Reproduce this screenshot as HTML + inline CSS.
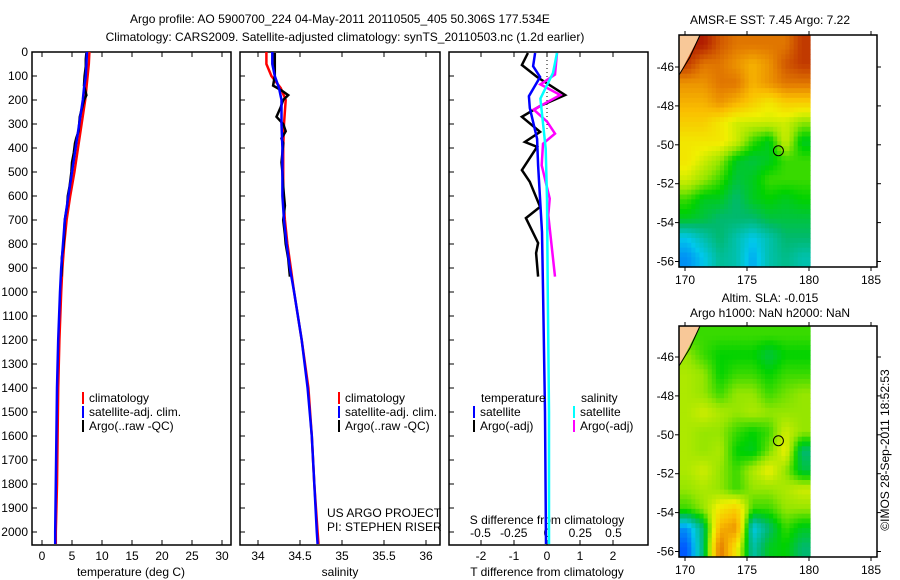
<!DOCTYPE html>
<html><head><meta charset="utf-8"><style>
body{margin:0;background:#fff;}
svg{display:block;font-family:"Liberation Sans",sans-serif;}
text{font-size:12px;fill:#000;}
</style></head><body>
<svg id="fig" width="900" height="580" viewBox="0 0 900 580" xmlns="http://www.w3.org/2000/svg">
<text x="340" y="23" text-anchor="middle">Argo profile: AO 5900700_224 04-May-2011 20110505_405 50.306S 177.534E</text>
<text x="345" y="41" text-anchor="middle">Climatology: CARS2009. Satellite-adjusted climatology: synTS_20110503.nc (1.2d earlier)</text>
<g id="g"></g>
<text transform="rotate(-90 889 450)" text-anchor="middle"><tspan x="889" y="450">©IMOS 28-Sep-2011 18:52:53</tspan></text>
</svg>
<script>
// ---- data ----
const depthTicks=[0,100,200,300,400,500,600,700,800,900,1000,1100,1200,1300,1400,1500,1600,1700,1800,1900,2000];
const tempTicks=[0,5,10,15,20,25,30];
const salTicks=[34,34.5,35,35.5,36];
const tdTicks=[-2,-1,0,1,2];
const sdTicks=[-0.5,-0.25,0,0.25,0.5];
const sdTickLabels=["-0.5","-0.25","0","0.25","0.5"];
const depthsStd=[0,50,100,150,200,300,400,500,600,700,800,900,1000,1200,1400,1600,1800,2000,2050];
const tempClim=[7.9,7.8,7.6,7.4,7.2,6.6,6.0,5.4,4.7,4.1,3.7,3.4,3.2,2.9,2.7,2.6,2.5,2.3,2.3];
const tempSat=[7.5,7.4,7.3,7.0,6.8,6.2,5.6,5.0,4.4,3.8,3.5,3.2,3.0,2.7,2.5,2.4,2.3,2.2,2.2];
const salClim=[34.1,34.1,34.16,34.27,34.33,34.31,34.3,34.3,34.3,34.32,34.35,34.39,34.43,34.52,34.6,34.64,34.67,34.71,34.72];
const salSat=[34.17,34.17,34.2,34.25,34.28,34.28,34.29,34.29,34.29,34.31,34.34,34.38,34.43,34.52,34.59,34.64,34.67,34.7,34.71];
const argoDepth=[4,30,60,100,140,160,180,200,230,270,300,330,360,380,420,460,500,560,600,640,700,760,800,860,900,936];
const argoTemp=[7.4,7.3,7.3,7.1,7.0,7.2,7.4,7.0,6.7,6.3,6.2,6.1,5.7,5.5,5.3,5.0,4.9,4.6,4.3,4.2,3.8,3.7,3.6,3.3,3.3,3.2];
const argoSal=[34.2,34.2,34.2,34.2,34.18,34.28,34.36,34.3,34.27,34.22,34.3,34.33,34.28,34.3,34.29,34.28,34.29,34.3,34.31,34.32,34.3,34.32,34.33,34.36,34.37,34.38];
const tdArgoDepth=[4,54,104,179,225,270,333,375,395,492,541,645,692,796,838,936];
const tdArgo=[-0.58,-0.76,-0.3,0.55,-0.21,-0.76,-0.21,-0.67,-0.3,-0.76,-0.52,-0.21,-0.64,-0.27,-0.33,-0.27];
const tdSatDepth=[4,59,104,184,233,362,472,750,986,1500,2050];
const tdSat=[-0.36,-0.42,-0.21,-0.55,-0.52,-0.3,-0.27,-0.15,-0.12,-0.06,-0.03];
const sdArgoDepth=[4,94,135,179,240,290,340,382,472,611,680,936];
const sdArgo=[0.075,0.06,-0.05,0.1,-0.1,0,0.06,-0.03,-0.04,0.02,0.01,0.06];
const sdSatDepth=[4,87,194,403,611,972,1500,2050];
const sdSat=[0.075,0.045,-0.05,-0.01,0,0.005,0.015,0.015];
const lonTicks=[170,175,180,185];
const latTicks=[-46,-48,-50,-52,-54,-56];
const sstGrid=[
[0.95,0.95,0.85,0.8,0.8,0.8,0.8,0.9],[0.9,0.8,0.8,0.75,0.7,0.75,0.85,0.9],[0.75,0.75,0.8,0.8,0.7,0.75,0.8,0.8],
[0.7,0.7,0.75,0.7,0.65,0.6,0.65,0.65],[0.65,0.65,0.6,0.55,0.55,0.55,0.55,0.5],[0.6,0.6,0.6,0.55,0.45,0.4,0.55,0.4],
[0.6,0.55,0.5,0.4,0.38,0.4,0.45,0.45],[0.55,0.5,0.45,0.38,0.4,0.45,0.45,0.45],[0.45,0.4,0.4,0.35,0.4,0.42,0.4,0.42],
[0.4,0.38,0.35,0.35,0.35,0.38,0.38,0.38],[0.25,0.3,0.35,0.3,0.25,0.3,0.35,0.35],[0.2,0.25,0.32,0.3,0.22,0.3,0.33,0.3]];
const slaGrid=[
[0.45,0.45,0.45,0.45,0.45,0.45,0.45,0.45],[0.5,0.45,0.42,0.42,0.42,0.38,0.42,0.42],[0.52,0.5,0.42,0.45,0.45,0.42,0.45,0.45],
[0.52,0.5,0.45,0.5,0.5,0.45,0.48,0.5],[0.52,0.55,0.52,0.5,0.52,0.5,0.5,0.5],[0.52,0.5,0.5,0.45,0.42,0.45,0.55,0.5],
[0.52,0.5,0.52,0.42,0.4,0.48,0.58,0.35],[0.52,0.55,0.5,0.45,0.52,0.58,0.5,0.38],[0.5,0.52,0.5,0.45,0.5,0.5,0.52,0.55],
[0.45,0.5,0.6,0.65,0.45,0.45,0.5,0.5],[0.2,0.35,0.7,0.75,0.25,0.35,0.45,0.4],[0.15,0.35,0.8,0.6,0.3,0.4,0.42,0.35]];
const argoLon=177.534, argoLat=-50.306;

const NS="http://www.w3.org/2000/svg";
const G=document.getElementById('g');
function mk(tag,at,parent){const e=document.createElementNS(NS,tag);for(const k in at)e.setAttribute(k,at[k]);(parent||G).appendChild(e);return e;}
const Y=d=>52+d*0.24;
const P1={l:32,r:231}, P2={l:240,r:440}, P3={l:449,r:648}; const TOP=52,BOT=545;
const xT=v=>42+6*v, xS=v=>258+84*(v-34), xTD=v=>547+33*v, xSD=v=>547+133*v;

function frame(P,name){const r=mk('rect',{x:P.l,y:TOP,width:P.r-P.l,height:BOT-TOP,fill:'none',stroke:'#000','stroke-width':1.5});}
function stairs(xs,ds,fx,col,name,w){let p='';for(let i=0;i<xs.length;i++){const x=fx(xs[i]),y=Y(ds[i]);p+=(i?'L':'M')+x.toFixed(1)+' '+y.toFixed(1);}
 const e=mk('path',{d:p,fill:'none',stroke:col,'stroke-width':w||2.5});}
function txt(x,y,s,anchor,name){const t=mk('text',{x:x,y:y,'text-anchor':anchor||'start'});t.textContent=s;return t;}

depthTicks.forEach(d=>{txt(28,Y(d)+4,String(d),'end','depth-tick-label');
 [P1,P2,P3].forEach(P=>{mk('line',{x1:P.l,x2:P.l+5,y1:Y(d),y2:Y(d),stroke:'#000'});});});
frame(P1,'temperature-panel');frame(P2,'salinity-panel');frame(P3,'difference-panel');
function xticks(ticks,f,labels){ticks.forEach((v,i)=>{const x=f(v);mk('line',{x1:x,x2:x,y1:TOP,y2:TOP+5,stroke:'#000'});mk('line',{x1:x,x2:x,y1:BOT,y2:BOT-5,stroke:'#000'});
 txt(x,560,labels?labels[i]:String(v),'middle','x-tick-label');});}
xticks(tempTicks,xT);xticks(salTicks,xS);xticks(tdTicks,xTD);
txt(131,576,'temperature (deg C)','middle','temperature-axis-title');
txt(340,576,'salinity','middle','salinity-axis-title');
txt(547,576,'T difference from climatology','middle','t-diff-axis-title');
sdTicks.forEach((v,i)=>txt(xSD(v),537,sdTickLabels[i],'middle','s-diff-tick-label'));
txt(547,524,'S difference from climatology','middle','s-diff-axis-title');

stairs(tempClim,depthsStd,xT,'#f00','temp-climatology');
stairs(argoTemp,argoDepth,xT,'#000','temp-argo');
stairs(tempSat,depthsStd,xT,'#00f','temp-satellite');
stairs(salClim,depthsStd,xS,'#f00','sal-climatology');
stairs(argoSal,argoDepth,xS,'#000','sal-argo');
stairs(salSat,depthsStd,xS,'#00f','sal-satellite');
mk('line',{x1:xTD(0),x2:xTD(0),y1:TOP,y2:Y(320),stroke:'#000','stroke-dasharray':'1 3'});
stairs(tdArgo,tdArgoDepth,xTD,'#000','tdiff-argo');
stairs(sdArgo,sdArgoDepth,xSD,'#f0f','sdiff-argo');
stairs(tdSat,tdSatDepth,xTD,'#00f','tdiff-satellite');
stairs(sdSat,sdSatDepth,xSD,'#0ff','sdiff-satellite');

function leg(x,y,col,s){mk('rect',{x:x,y:y-10,width:2,height:12,fill:col});txt(x+7,y,s,'start','legend-entry');}
[82,338].forEach(x=>{leg(x,402,'#f00','climatology');leg(x,416,'#00f','satellite-adj. clim.');leg(x,430,'#000','Argo(..raw -QC)');});
txt(481,402,'temperature','start','legend-heading');txt(581,402,'salinity','start','legend-heading');
leg(473,416,'#00f','satellite');leg(473,430,'#000','Argo(-adj)');
leg(573,416,'#0ff','satellite');leg(573,430,'#f0f','Argo(-adj)');
txt(327,517,'US ARGO PROJECT','start','project-label');txt(327,531,'PI: STEPHEN RISER','start','pi-label');

const stops=[[0,[0,0,170]],[0.15,[0,90,255]],[0.25,[0,200,235]],[0.35,[0,185,110]],[0.42,[0,210,0]],[0.5,[150,230,0]],[0.58,[240,240,0]],[0.68,[250,190,0]],[0.78,[230,130,0]],[0.88,[200,70,0]],[1,[160,0,0]]];
function cmap(v){for(let i=1;i<stops.length;i++){if(v<=stops[i][0]){const a=stops[i-1],b=stops[i],t=(v-a[0])/(b[0]-a[0]);return 'rgb('+a[1].map((c,j)=>Math.round(c+(b[1][j]-c)*t)).join(',')+')';}}return 'rgb(160,0,0)';}
function sample(grid,fy,fx){const R=grid.length,C=grid[0].length;
 const y=Math.min(Math.max(fy-0.5,0),R-1),x=Math.min(Math.max(fx-0.5,0),C-1);
 const i=Math.floor(y),j=Math.floor(x),i2=Math.min(i+1,R-1),j2=Math.min(j+1,C-1),ty=y-i,tx=x-j;
 return (grid[i][j]*(1-tx)+grid[i][j2]*tx)*(1-ty)+(grid[i2][j]*(1-tx)+grid[i2][j2]*tx)*ty;}
function map(M,grid,name,t1,t2){
 const lx=v=>685+12.4*(v-170), ly=v=>M.y46+19.45*(-46-v);
 const rows=grid.length,cols=grid[0].length,UP=4;
 const w=(810-679)/(cols*UP),h=(M.b-M.t)/(rows*UP);
 for(let i=0;i<rows*UP;i++)for(let j=0;j<cols*UP;j++){
  const v=sample(grid,(i+0.5)/UP,(j+0.5)/UP);
  const r=mk('rect',{x:(679+j*w).toFixed(2),y:(M.t+i*h).toFixed(2),width:(w+0.6).toFixed(2),height:(h+0.6).toFixed(2),fill:cmap(v)});
  
  }
 mk('path',{d:`M679 ${M.t} L700 ${M.t} L679 ${M.t+40} Z`,fill:'#f8c898'});
 mk('path',{d:`M679 ${M.t+40} L690 ${M.t+22} L700 ${M.t}`,fill:'none',stroke:'#000','stroke-width':1});
 const f=mk('rect',{x:679,y:M.t,width:198,height:M.b-M.t,fill:'none',stroke:'#000','stroke-width':1.5});
 lonTicks.forEach(v=>{const x=lx(v);mk('line',{x1:x,x2:x,y1:M.t-4,y2:M.t,stroke:'#000'});mk('line',{x1:x,x2:x,y1:M.b,y2:M.b+4,stroke:'#000'});txt(x,M.b+17,String(v),'middle','lon-tick-label');});
 latTicks.forEach(v=>{const y=ly(v);mk('line',{x1:675,x2:679,y1:y,y2:y,stroke:'#000'});mk('line',{x1:877,x2:881,y1:y,y2:y,stroke:'#000'});txt(674,y+4,String(v),'end','lat-tick-label');});
 const c=mk('circle',{cx:lx(argoLon),cy:ly(argoLat),r:5,fill:'none',stroke:'#000'});
 txt(770,M.tt,t1,'middle','map-title');if(t2)txt(770,M.tt+15,t2,'middle','map-subtitle');
}
map({t:35,b:267,y46:67,tt:24},sstGrid,'sst-map','AMSR-E SST: 7.45 Argo: 7.22');
map({t:326,b:557,y46:357,tt:302},slaGrid,'sla-map','Altim. SLA: -0.015','Argo h1000: NaN h2000: NaN');
</script>
</body></html>
